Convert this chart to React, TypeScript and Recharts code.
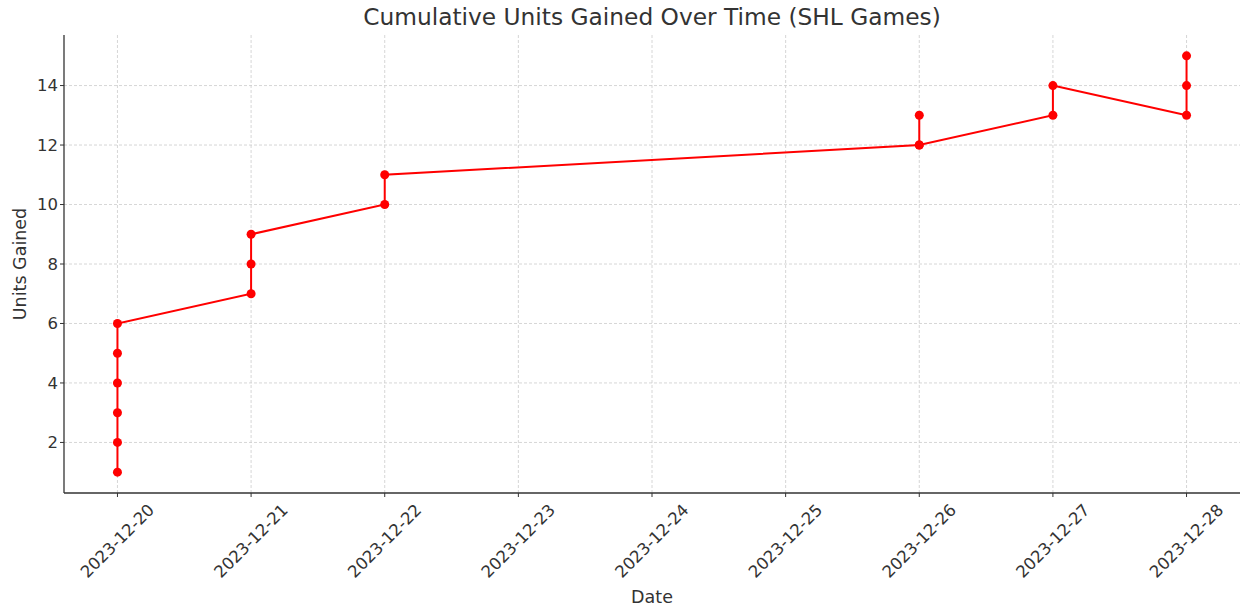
import { CartesianGrid, Label, Line, LineChart, XAxis, YAxis } from "recharts";

const gameDates = [
  "2023-12-20", "2023-12-20", "2023-12-20", "2023-12-20", "2023-12-20", "2023-12-20",
  "2023-12-21", "2023-12-21", "2023-12-21",
  "2023-12-22", "2023-12-22",
  "2023-12-26", "2023-12-26", "2023-12-26",
  "2023-12-27", "2023-12-27",
  "2023-12-28", "2023-12-28", "2023-12-28",
];
const cumulativeUnits = [1, 2, 3, 4, 5, 6, 7, 8, 9, 10, 11, 12, 13, 12, 13, 14, 13, 14, 15];
const tickDates = [
  "2023-12-20", "2023-12-21", "2023-12-22", "2023-12-23", "2023-12-24",
  "2023-12-25", "2023-12-26", "2023-12-27", "2023-12-28",
];
const yTicks = [2, 4, 6, 8, 10, 12, 14];

const DAY = 86400000;
const start = Date.parse(tickDates[0]);
const toDay = (d: string) => (Date.parse(d) - start) / DAY;

const data = gameDates.map((d, i) => ({ day: toDay(d), units: cumulativeUnits[i] }));
const xTicks = tickDates.map(toDay);

const X_DOMAIN: [number, number] = [-0.4, 8.4];
const Y_DOMAIN: [number, number] = [0.3, 15.7];

const FONT = "'DejaVu Sans', sans-serif";
const TEXT = "#333";

// rotated 45°, centered on the tick like matplotlib's rotation=45
function DateTick({ x, y, payload }: any) {
  const label = tickDates[payload.index] ?? tickDates[Math.round(payload.value)];
  const cy = y + 42;
  return (
    <text
      x={x}
      y={cy}
      transform={`rotate(-45, ${x}, ${cy})`}
      textAnchor="middle"
      dominantBaseline="central"
      fill={TEXT}
      fontSize={16.5}
      fontFamily={FONT}
    >
      {label}
    </text>
  );
}

// grid only at tick positions (no lines on the plot edges)
const gridX = ({ offset }: any) =>
  xTicks.map((t) => offset.left + ((t - X_DOMAIN[0]) / (X_DOMAIN[1] - X_DOMAIN[0])) * offset.width);
const gridY = ({ offset }: any) =>
  yTicks.map((t) => offset.top + ((Y_DOMAIN[1] - t) / (Y_DOMAIN[1] - Y_DOMAIN[0])) * offset.height);

export default function App() {
  return (
    <div style={{ position: "absolute", left: 0, top: 0, width: 1242, height: 609, background: "#fff" }}>
      <div
        style={{
          position: "absolute",
          left: 64,
          width: 1176,
          top: 3,
          textAlign: "center",
          fontFamily: FONT,
          fontSize: 23.3,
          color: TEXT,
        }}
      >
        Cumulative Units Gained Over Time (SHL Games)
      </div>
      <LineChart width={1242} height={609} data={data} margin={{ top: 35, right: 2, left: 0, bottom: 0 }}>
        <CartesianGrid
          stroke="#cccccc"
          strokeDasharray="3 2"
          strokeWidth={0.8}
          verticalCoordinatesGenerator={gridX}
          horizontalCoordinatesGenerator={gridY}
        />
        <XAxis
          type="number"
          dataKey="day"
          domain={X_DOMAIN}
          ticks={xTicks}
          interval={0}
          height={116}
          tick={<DateTick />}
          tickSize={4}
          tickLine={{ stroke: TEXT }}
          axisLine={{ stroke: TEXT, strokeWidth: 1.3 }}
          allowDataOverflow
        >
          <Label value="Date" position="insideBottom" offset={6} fill={TEXT} fontSize={17.5} fontFamily={FONT} />
        </XAxis>
        <YAxis
          type="number"
          domain={Y_DOMAIN}
          ticks={yTicks}
          interval={0}
          width={64}
          tickSize={4}
          tick={{ fill: TEXT, fontSize: 16.5, fontFamily: FONT }}
          tickLine={{ stroke: TEXT }}
          axisLine={{ stroke: TEXT, strokeWidth: 1.3 }}
          allowDataOverflow
        >
          <Label
            value="Units Gained"
            angle={-90}
            position="insideLeft"
            offset={20}
            style={{ textAnchor: "middle" }}
            fill={TEXT}
            fontSize={17.5}
            fontFamily={FONT}
          />
        </YAxis>
        <Line
          type="linear"
          dataKey="units"
          stroke="#ff0000"
          strokeWidth={2}
          dot={{ r: 4.5, fill: "#ff0000", stroke: "#ff0000", strokeWidth: 0 }}
          activeDot={false}
          isAnimationActive={false}
        />
      </LineChart>
    </div>
  );
}
